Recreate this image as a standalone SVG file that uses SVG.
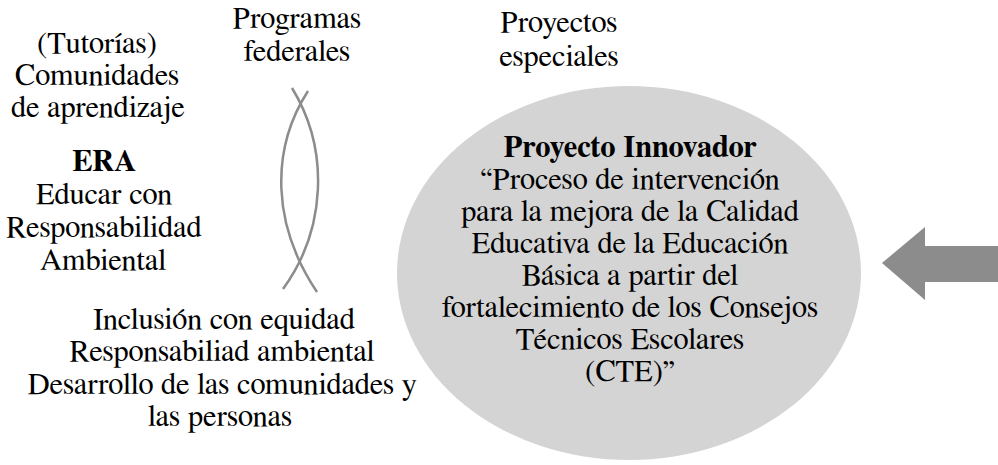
<svg xmlns="http://www.w3.org/2000/svg" width="998" height="465" viewBox="0 0 998 465">
<style>
  text { font-family: FreeSerif, 'Liberation Serif', 'Times New Roman', serif; font-size: 30.5px; fill: #000; text-anchor: middle; }
  .b { font-weight: bold; }
  .curve { fill: none; stroke: #8c8c8c; stroke-width: 2.5; stroke-linecap: butt; }
</style>
<rect width="998" height="465" fill="#ffffff"/>
<g id="tutorias">
  <text x="97" y="53">(Tutorías)</text>
  <text x="97" y="85">Comunidades</text>
  <text x="98" y="117">de aprendizaje</text>
</g>
<g id="era">
  <text class="b" x="104" y="171">ERA</text>
  <text x="104" y="204">Educar con</text>
  <text x="104" y="237">Responsabilidad</text>
  <text x="103" y="270">Ambiental</text>
</g>
<g id="programas">
  <text x="297" y="28">Programas</text>
  <text x="297" y="61">federales</text>
</g>
<g id="proyectos">
  <text x="559" y="32">Proyectos</text>
  <text x="559" y="66">especiales</text>
</g>
<g id="inclusion">
  <text x="224" y="329">Inclusión con equidad</text>
  <text x="222" y="361">Responsabiliad ambiental</text>
  <text x="222" y="394">Desarrollo de las comunidades y</text>
  <text x="220" y="426">las personas</text>
</g>
<g id="proyecto-innovador">
  <ellipse cx="629" cy="273" rx="232" ry="187" fill="#d4d4d4"/>
  <text class="b" x="630" y="157">Proyecto Innovador</text>
  <text x="630" y="189">“Proceso de intervención</text>
  <text x="630" y="221">para la mejora de la Calidad</text>
  <text x="630" y="253">Educativa de la Educación</text>
  <text x="630" y="285">Básica a partir del</text>
  <text x="630" y="317">fortalecimiento de los Consejos</text>
  <text x="630" y="349">Técnicos Escolares</text>
  <text x="630" y="381">(CTE)”</text>
</g>
<g id="connectors">
  <path class="curve" d="M292,88 C330,150 326,230 283,289"/>
  <path class="curve" d="M308,91 C270,150 272,225 317,292"/>
  <polygon points="882,263 925,227 925,246 998,246 998,282 925,282 925,300" fill="#8c8c8c"/>
</g>
</svg>
